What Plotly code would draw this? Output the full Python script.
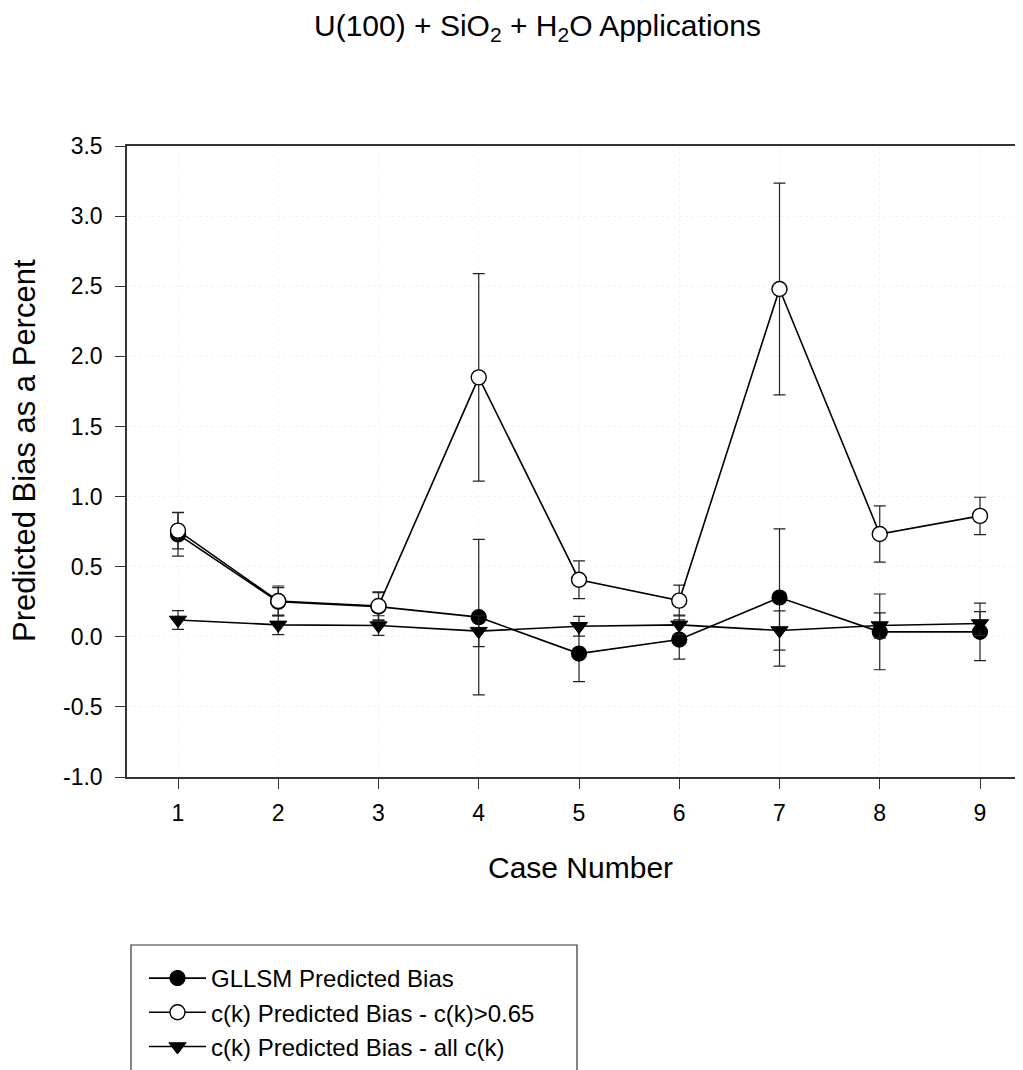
import plotly.graph_objects as go

cases = [1, 2, 3, 4, 5, 6, 7, 8, 9]
gllsm = [0.73, 0.25, 0.215, 0.14, -0.12, -0.02, 0.28, 0.035, 0.035]
gllsm_err = [0.155, 0.10, 0.10, 0.555, 0.20, 0.14, 0.49, 0.27, 0.205]
ck065 = [0.757, 0.255, 0.22, 1.85, 0.407, 0.258, 2.48, 0.733, 0.862]
ck065_err = [0.13, 0.107, 0.10, 0.74, 0.135, 0.11, 0.755, 0.20, 0.133]
ckall = [0.12, 0.085, 0.08, 0.04, 0.075, 0.085, 0.045, 0.08, 0.095]
ckall_err = [0.067, 0.07, 0.07, 0.11, 0.07, 0.07, 0.14, 0.09, 0.085]

names = ["GLLSM Predicted Bias", "c(k) Predicted Bias - c(k)>0.65", "c(k) Predicted Bias - all c(k)"]
y_ticks = [-1.0, -0.5, 0.0, 0.5, 1.0, 1.5, 2.0, 2.5, 3.0, 3.5]

FONT = "Liberation Sans, Arial, sans-serif"
OFF = 8  # default page margin of the html body
W, H = 1023 - OFF, 1070 - OFF
L, R, T, B = 127 - OFF, 0, 146 - OFF, 293

def err(v):
    return dict(type="data", array=v, visible=True, color="#222222", thickness=1.2, width=6)

fig = go.Figure()
fig.add_trace(go.Scatter(x=cases, y=gllsm, error_y=err(gllsm_err), mode="lines+markers", name=names[0],
                         line=dict(color="black", width=1.6),
                         marker=dict(symbol="circle", size=15, color="black", line=dict(color="black", width=1.2))))
fig.add_trace(go.Scatter(x=cases, y=ck065, error_y=err(ck065_err), mode="lines+markers", name=names[1],
                         line=dict(color="black", width=1.6),
                         marker=dict(symbol="circle", size=15, color="white", line=dict(color="black", width=1.4))))
fig.add_trace(go.Scatter(x=cases, y=ckall, error_y=err(ckall_err), mode="lines+markers", name=names[2],
                         line=dict(color="black", width=1.6),
                         marker=dict(symbol="triangle-down", size=15, color="black", line=dict(color="black", width=1))))

pw = W - L - R
ph = H - T - B
# helpers converting screen pixel targets to paper coordinates
def px(x):
    return (x - OFF - L) / pw
def py(y):
    return (H - B - (y - OFF)) / ph

fig.update_layout(
    width=W, height=H,
    margin=dict(l=L, r=R, t=T, b=B, autoexpand=False),
    paper_bgcolor="white", plot_bgcolor="white",
    font=dict(family=FONT, color="black", size=23),
    showlegend=True,
    legend=dict(x=px(144), y=py(956), xanchor="left", yanchor="top",
                bgcolor="rgba(0,0,0,0)", borderwidth=0,
                font=dict(size=24, family=FONT), itemwidth=57, tracegroupgap=0),
    xaxis=dict(range=[1 - 51 / 100.25, 1 - 51 / 100.25 + pw / 100.25],
               tickmode="array", tickvals=cases, ticks="outside", ticklen=10,
               tickcolor="#333333", tickwidth=1.2,
               showline=True, linecolor="#333333", linewidth=1.5, mirror=True,
               showgrid=True, gridcolor="#f3f3f3", griddash="dot", gridwidth=1,
               zeroline=False, tickfont=dict(size=23), ticklabelstandoff=5),
    yaxis=dict(range=[-1.0, 3.5], tickmode="array", tickvals=y_ticks,
               ticktext=[f"{v:.1f}" for v in y_ticks],
               ticks="outside", ticklen=10, tickcolor="#333333", tickwidth=1.2,
               showline=True, linecolor="#333333", linewidth=1.5, mirror=False,
               showgrid=True, gridcolor="#f3f3f3", griddash="dot", gridwidth=1,
               zeroline=False, tickfont=dict(size=23), ticklabelstandoff=8),
    annotations=[
        dict(text="U(100) + SiO<sub>2</sub> + H<sub>2</sub>O Applications", xref="paper", yref="paper",
             x=px(537), y=py(28), xanchor="center", yanchor="middle", showarrow=False,
             font=dict(size=30, family=FONT)),
        dict(text="Case Number", xref="paper", yref="paper", x=px(580), y=py(868),
             xanchor="center", yanchor="middle", showarrow=False, font=dict(size=30, family=FONT)),
        dict(text="Predicted Bias as a Percent", xref="paper", yref="paper", x=px(24), y=py(451),
             xanchor="center", yanchor="middle", showarrow=False, textangle=-90,
             font=dict(size=31, family=FONT)),
    ],
    shapes=[
        dict(type="rect", xref="paper", yref="paper", x0=px(131), x1=px(577), y0=py(945), y1=py(1085),
             line=dict(color="#333333", width=1.2), fillcolor="rgba(0,0,0,0)", layer="above"),
    ],
)

fig.write_html("out.html")
